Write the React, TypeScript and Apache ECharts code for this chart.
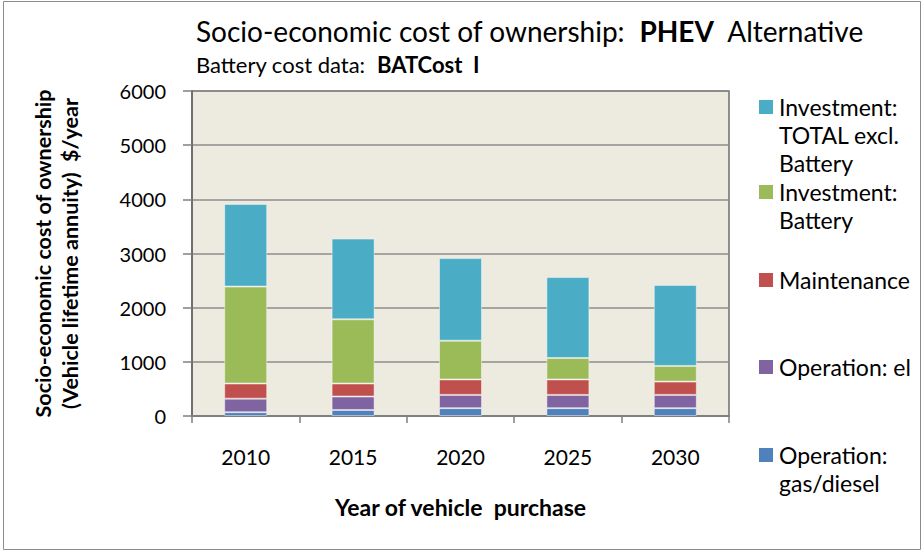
import React, { useEffect, useRef } from "react";
import * as echarts from "echarts";

const years = ["2010", "2015", "2020", "2025", "2030"];
const gasDiesel = [70, 110, 145, 145, 145];
const operationEl = [250, 250, 245, 245, 245];
const maintenance = [280, 240, 285, 285, 245];
const battery = [1790, 1185, 715, 395, 290];
const investTotal = [1525, 1490, 1525, 1495, 1495];
const yTicks = [0, 1000, 2000, 3000, 4000, 5000, 6000];

const seriesDefs = [
  { name: "Operation: gas/diesel", label: "Operation:\ngas/diesel", data: gasDiesel, color: "#4F81BD" },
  { name: "Operation: el", label: "Operation: el", data: operationEl, color: "#8064A2" },
  { name: "Maintenance", label: "Maintenance", data: maintenance, color: "#C0504D" },
  { name: "Investment: Battery", label: "Investment:\nBattery", data: battery, color: "#9BBB59" },
  { name: "Investment: TOTAL excl. Battery", label: "Investment:\nTOTAL excl.\nBattery", data: investTotal, color: "#4BACC6" },
];

const legendRows = [
  { idx: 4, y: 107 },
  { idx: 3, y: 192 },
  { idx: 2, y: 280 },
  { idx: 1, y: 367 },
  { idx: 0, y: 455 },
];

const FONT = "Lato";

export default function App() {
  const ref = useRef<HTMLDivElement>(null);
  useEffect(() => {
    if (!ref.current) return;
    const chart = echarts.init(ref.current, undefined, { renderer: "svg" });
    const graphics: any[] = [
      {
        type: "rect",
        shape: { x: 3.5, y: 1.5, width: 917, height: 548 },
        style: { fill: "none", stroke: "#8c8c8c", lineWidth: 1 },
        silent: true,
      },
    ];
    legendRows.forEach((r) => {
      const s = seriesDefs[r.idx];
      graphics.push({
        type: "rect",
        shape: { x: 759, y: r.y - 7, width: 14, height: 14 },
        style: { fill: s.color },
      });
      graphics.push({
        type: "text",
        x: 779,
        y: r.y - 14,
        style: {
          text: s.label,
          font: `23px ${FONT}`,
          fill: "#000",
          lineHeight: 28,
          verticalAlign: "top",
        },
      });
    });
    chart.setOption({
      animation: false,
      textStyle: { fontFamily: FONT },
      title: [
        {
          left: 191,
          top: 12,
          text: "{a|Socio-economic cost of ownership:  }{b|PHEV}{a|  Alternative}",
          textStyle: {
            fontWeight: "normal",
            rich: {
              a: { fontSize: 28, fontFamily: FONT, fontWeight: "normal", color: "#000" },
              b: { fontSize: 28, fontFamily: FONT, fontWeight: "bold", color: "#000" },
            },
          },
        },
        {
          left: 191,
          top: 48,
          text: "{a|Battery cost data:  }{b|BATCost  I}",
          textStyle: {
            fontWeight: "normal",
            rich: {
              a: { fontSize: 22, fontFamily: FONT, fontWeight: "normal", color: "#000" },
              b: { fontSize: 22, fontFamily: FONT, fontWeight: "bold", color: "#000" },
            },
          },
        },
      ],
      grid: {
        left: 192,
        top: 91,
        right: 923 - 729,
        bottom: 552 - 416,
        show: true,
        backgroundColor: "#EDEAE0",
        borderColor: "#6f6f6f",
        borderWidth: 1.5,
      },
      xAxis: {
        type: "category",
        data: years,
        axisLine: { lineStyle: { color: "#7f7f7f", width: 2 } },
        axisTick: { show: true, length: 7, interval: 0, lineStyle: { color: "#7f7f7f", width: 1.5 } },
        axisLabel: { fontSize: 21, color: "#000", margin: 30, fontFamily: FONT },
        name: "Year of vehicle  purchase",
        nameLocation: "middle",
        nameGap: 79,
        nameTextStyle: { fontSize: 23, fontWeight: "bold", color: "#000", fontFamily: FONT },
      },
      yAxis: {
        type: "value",
        min: 0,
        max: 6000,
        interval: 1000,
        axisLine: { show: true, lineStyle: { color: "#6f6f6f", width: 2 } },
        axisTick: { show: true, length: 9, lineStyle: { color: "#7f7f7f", width: 1.5 } },
        splitLine: { lineStyle: { color: "#8c8c8c", width: 1.6 } },
        axisLabel: {
          fontSize: 20,
          color: "#000",
          margin: 26,
          fontFamily: FONT,
          formatter: (v: number) => (yTicks.includes(v) ? String(v) : ""),
        },
        name: "Socio-economic cost of ownership\n(Vehicle lifetime annuity)  $/year",
        nameLocation: "middle",
        nameGap: 109,
        nameRotate: 90,
        nameTextStyle: { fontSize: 21.5, fontWeight: "bold", color: "#000", lineHeight: 27, fontFamily: FONT },
      },
      series: seriesDefs.map((s) => ({
        name: s.name,
        type: "bar",
        stack: "total",
        data: s.data,
        barWidth: 43,
        itemStyle: { color: s.color, borderColor: "rgba(255,255,255,0.45)", borderWidth: 1 },
      })),
      graphic: graphics,
    });
    return () => chart.dispose();
  }, []);
  return (
    <div
      ref={ref}
      style={{ position: "fixed", left: 0, top: 0, width: 923, height: 552, background: "#fff" }}
    />
  );
}
